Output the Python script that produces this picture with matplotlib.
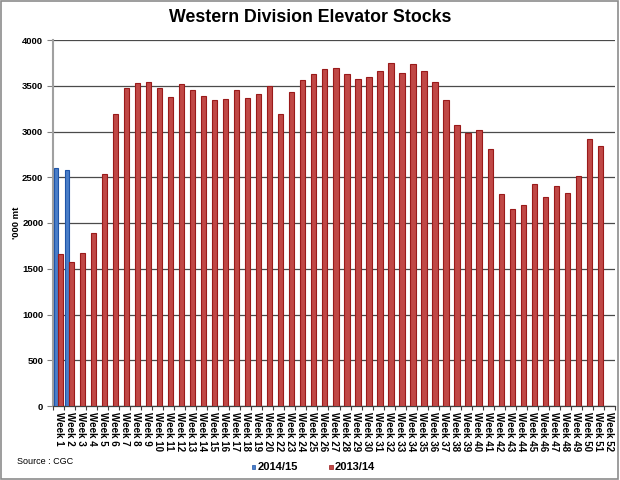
import matplotlib
matplotlib.use("Agg")
import matplotlib.pyplot as plt
import numpy as np
from matplotlib.patches import Rectangle

weeks = [f"Week {i}" for i in range(1, 21)] + [f"Week {i}" for i in range(22, 53)]

stocks_2014_15 = [2600, 2575] + [None] * 49

stocks_2013_14 = [1660, 1570, 1670, 1895, 2540, 3190, 3470, 3525, 3540, 3470,
                  3378, 3520, 3452, 3388, 3345, 3352, 3450, 3370, 3408, 3500,
                  3188, 3435, 3562, 3628, 3686, 3694, 3628, 3577, 3596, 3665,
                  3752, 3643, 3734, 3665, 3538, 3344, 3075, 2980, 3016, 2809,
                  2313, 2153, 2197, 2426, 2281, 2404, 2331, 2510, 2914, 2837,
                  None]

series_labels = ["2014/15", "2013/14"]
y_ticks = [0, 500, 1000, 1500, 2000, 2500, 3000, 3500, 4000]

plt.rcParams['font.family'] = ['Liberation Sans', 'DejaVu Sans']

fig = plt.figure(figsize=(6.2, 4.8), dpi=100)
ax = fig.add_axes([53/620, 1 - 406/480, 562/620, 366/480])

x = np.arange(len(weeks))
blue_fill, blue_edge = '#4A7EC8', '#1F55A8'
red_fill, red_edge = '#C04846', '#9A1A1A'

bx = [xi for xi, v in zip(x, stocks_2014_15) if v is not None]
bv = [v for v in stocks_2014_15 if v is not None]
rx = [xi for xi, v in zip(x, stocks_2013_14) if v is not None]
rv = [v for v in stocks_2013_14 if v is not None]

ax.bar(np.array(bx) - 0.22, bv, width=0.4, color=blue_fill, edgecolor=blue_edge,
       linewidth=0.8, zorder=3)
ax.bar(np.array(rx) + 0.17, rv, width=0.48, color=red_fill, edgecolor=red_edge,
       linewidth=0.8, zorder=3)

ax.set_xlim(-0.5, len(weeks) - 0.5)
ax.set_ylim(0, 4000)
ax.set_yticks(y_ticks)
ax.set_yticklabels([str(t) for t in y_ticks], fontsize=6.8, fontweight='bold')
ax.yaxis.grid(True, color='#4a4a4a', linewidth=0.9, zorder=0)
ax.set_axisbelow(True)

ax.set_xticks(x)
ax.set_xticklabels(weeks, rotation=270, fontsize=7, fontweight='bold')
ax.tick_params(axis='x', which='major', length=0, pad=4)
ax.set_xticks(np.arange(-0.5, len(weeks), 1.0), minor=True)
ax.tick_params(axis='x', which='minor', length=3, color='#404040', width=0.8)
ax.tick_params(axis='y', length=4, color='#808080', width=0.8, pad=3)

for s in ['top', 'right']:
    ax.spines[s].set_visible(False)
ax.spines['left'].set_color('#a0a0a0')
ax.spines['left'].set_linewidth(1.5)
ax.spines['bottom'].set_color('#404040')
ax.spines['bottom'].set_linewidth(0.9)

ax.set_ylabel("'000 mt", fontsize=6.8, fontweight='bold', labelpad=1)

fig.text(0.5, 1 - 18/480, "Western Division Elevator Stocks", ha='center', va='center',
         fontsize=12.8, fontweight='bold')
fig.text(17/620, 1 - 462/480, "Source : CGC", ha='left', va='center', fontsize=6.5)

# legend
ly = 1 - 467/480
sq_w, sq_h = 3.5/620, 4.5/480
fig.patches.append(Rectangle((252/620, ly - sq_h/2), sq_w, sq_h, transform=fig.transFigure,
                             facecolor=blue_fill, edgecolor=blue_edge, linewidth=0.5))
fig.text(258/620, ly, series_labels[0], ha='left', va='center', fontsize=8, fontweight='bold')
fig.patches.append(Rectangle((329/620, ly - sq_h/2), sq_w, sq_h, transform=fig.transFigure,
                             facecolor=red_fill, edgecolor=red_edge, linewidth=0.5))
fig.text(335/620, ly, series_labels[1], ha='left', va='center', fontsize=8, fontweight='bold')

# outer frame
fig.patches.append(Rectangle((0.002, 0.003), 0.995, 0.994, transform=fig.transFigure,
                             facecolor='none', edgecolor='#8c8c8c', linewidth=1.2))

fig.savefig("out.png", dpi=100)
